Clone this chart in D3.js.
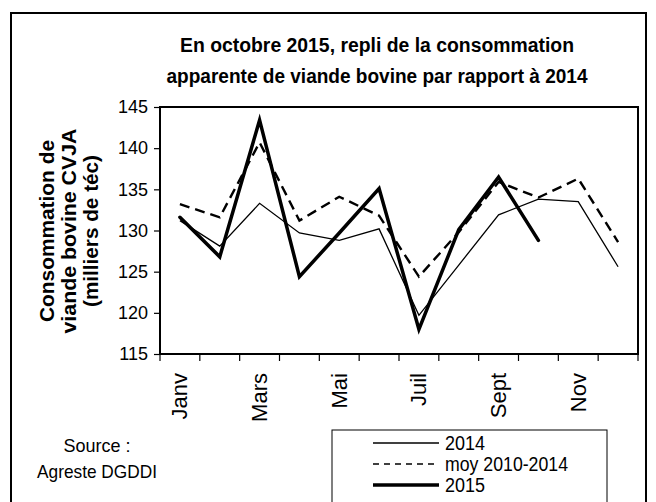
<!DOCTYPE html>
<html><head><meta charset="utf-8">
<script src="https://cdn.jsdelivr.net/npm/d3@7/dist/d3.min.js"></script>
<style>body{margin:0;background:#fff}svg{display:block}text{font-family:"Liberation Sans",Arial,sans-serif;fill:#000}</style>
</head><body><svg id="c" width="656" height="502"></svg>
<script>
const months = ["Janv","Févr","Mars","Avr","Mai","Juin","Juil","Août","Sept","Oct","Nov","Déc"];
const shownLabels = ["Janv","Mars","Mai","Juil","Sept","Nov"];
const yTicks = [115,120,125,130,135,140,145];
const s2014 = [131.2,128.1,133.3,129.7,128.8,130.2,119.7,125.8,131.9,133.8,133.5,125.6];
const sMoy  = [133.2,131.6,140.7,131.2,134.1,131.8,124.4,129.8,135.9,134.0,136.3,128.6];
const s2015 = [131.6,126.8,143.4,124.4,129.7,135.1,118.0,130.1,136.5,128.8];
const seriesNames = ["2014","moy 2010-2014","2015"];

const svg = d3.select("#c");
const L=160,R=638,T=107,B=354;
const x = d3.scaleBand().domain(months).range([L,R]);
const y = d3.scaleLinear().domain([115,145]).range([B,T]);
const cx = m => x(m)+x.bandwidth()/2;

// outer border
svg.append("rect").attr("x",11).attr("y",13).attr("width",635).attr("height",520)
  .attr("fill","none").attr("stroke","#000").attr("stroke-width",2);

// title
const title = ["En octobre 2015,  repli de la consommation","apparente de viande bovine par rapport à 2014"];
const tw=[394,421];
title.forEach((t,i)=>svg.append("text").attr("x",377).attr("y",52+i*31).attr("text-anchor","middle")
  .attr("font-size",20).attr("font-weight","bold").attr("textLength",tw[i]).attr("lengthAdjust","spacingAndGlyphs").text(t));

// y axis title
const yt=["Consommation de","viande bovine CVJA","(milliers de téc)"];
const ytw=[182,205,152];
yt.forEach((t,i)=>svg.append("text").attr("transform",`translate(${47+i*22},231) rotate(-90)`)
  .attr("text-anchor","middle").attr("dominant-baseline","central").attr("font-size",20).attr("font-weight","bold")
  .attr("textLength",ytw[i]).attr("lengthAdjust","spacingAndGlyphs").text(t));

// y axis
const ya = svg.append("g").attr("transform",`translate(${L},0)`)
  .call(d3.axisLeft(y).tickValues(yTicks).tickSize(6).tickPadding(6));
ya.select(".domain").remove();
ya.selectAll("line").attr("stroke","#000").attr("stroke-width",1.2);
ya.selectAll("text").attr("font-size",18).attr("font-family",null).attr("fill","#000");

// x ticks at band boundaries
const bounds = months.map(m=>x(m)).concat([x.range()[1]]);
svg.append("g").selectAll("line").data(bounds).join("line")
  .attr("x1",d=>d).attr("x2",d=>d).attr("y1",B).attr("y2",B+7).attr("stroke","#000").attr("stroke-width",1.2);
svg.append("g").selectAll("text").data(shownLabels).join("text")
  .attr("transform",d=>`translate(${cx(d)},373) rotate(-90)`).attr("text-anchor","end")
  .attr("dominant-baseline","central").attr("font-size",22).text(d=>d);

// frame
svg.append("rect").attr("x",L).attr("y",T).attr("width",R-L).attr("height",B-T)
  .attr("fill","none").attr("stroke","#000").attr("stroke-width",2);

// lines
const line = d3.line().x((d,i)=>cx(months[i])).y(d=>y(d));
svg.append("path").attr("d",line(s2014)).attr("fill","none").attr("stroke","#000").attr("stroke-width",1.3);
svg.append("path").attr("d",line(sMoy)).attr("fill","none").attr("stroke","#000").attr("stroke-width",2.4).attr("stroke-dasharray","10,6");
svg.append("path").attr("d",line(s2015)).attr("fill","none").attr("stroke","#000").attr("stroke-width",3.5).attr("stroke-linecap","round");

// source
svg.append("text").attr("x",97).attr("y",452).attr("text-anchor","middle").attr("font-size",19)
  .attr("textLength",67).attr("lengthAdjust","spacingAndGlyphs").text("Source :");
svg.append("text").attr("x",97).attr("y",478).attr("text-anchor","middle").attr("font-size",19)
  .attr("textLength",120).attr("lengthAdjust","spacingAndGlyphs").text("Agreste DGDDI");

// legend
svg.append("rect").attr("x",332).attr("y",430).attr("width",275).attr("height",100)
  .attr("fill","#fff").attr("stroke","#000").attr("stroke-width",1);
const legStyles=[{w:1.3,d:null},{w:1.3,d:"6,5"},{w:3.5,d:null}];
const legW=[40,123,40];
seriesNames.forEach((n,i)=>{
  const yy=443+i*21;
  svg.append("line").attr("x1",373).attr("x2",439).attr("y1",yy).attr("y2",yy).attr("stroke","#000")
    .attr("stroke-width",legStyles[i].w).attr("stroke-dasharray",legStyles[i].d);
  svg.append("text").attr("x",445).attr("y",yy).attr("dominant-baseline","central").attr("font-size",20)
    .attr("textLength",legW[i]).attr("lengthAdjust","spacingAndGlyphs").text(n);
});
</script></body></html>
